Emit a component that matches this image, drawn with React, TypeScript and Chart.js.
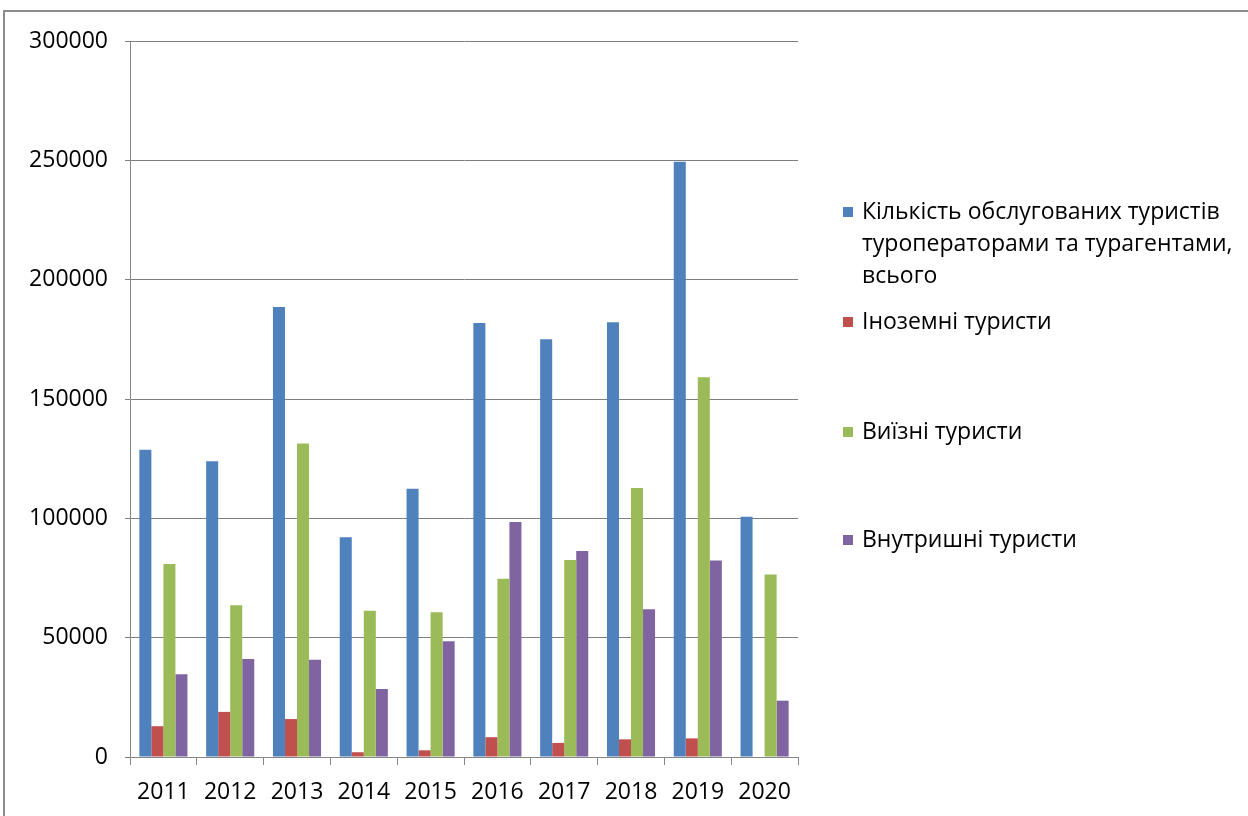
import React, { useEffect, useRef } from "react";
import { Chart, registerables } from "chart.js";

Chart.register(...registerables);

const years = ["2011", "2012", "2013", "2014", "2015", "2016", "2017", "2018", "2019", "2020"];
const totalServed = [128700, 123900, 188500, 92100, 112400, 181800, 175000, 182200, 249400, 100700];
const foreignTourists = [12900, 18900, 15900, 2000, 2800, 8300, 5900, 7400, 7800, 0];
const outboundTourists = [80900, 63600, 131400, 61300, 60600, 74700, 82500, 112700, 159100, 76500];
const domesticTourists = [34700, 41100, 40700, 28500, 48500, 98500, 86300, 61900, 82300, 23600];

const seriesLabels = [
  "Кількість обслугованих туристів туроператорами та турагентами, всього",
  "Іноземні туристи",
  "Виїзні туристи",
  "Внутришні туристи",
];
const seriesColors = ["#4F81BD", "#C0504D", "#9BBB59", "#8064A2"];

const yMin = 0;
const yMax = 300000;
const yStep = 50000;

const FONT_FAMILY = "'Open Sans', 'Liberation Sans', sans-serif";
const FONT_SIZE = 23;

const frameAndLegend = {
  id: "frameAndLegend",
  beforeDraw(chart: any) {
    const ctx = chart.ctx;
    ctx.save();
    ctx.fillStyle = "#ffffff";
    ctx.fillRect(0, 0, chart.width, chart.height);
    ctx.strokeStyle = "#8c8c8c";
    ctx.lineWidth = 2;
    ctx.beginPath();
    ctx.moveTo(4, chart.height + 2);
    ctx.lineTo(4, 11);
    ctx.lineTo(chart.width + 2, 11);
    ctx.stroke();
    ctx.restore();
  },
  afterDraw(chart: any) {
    const ctx = chart.ctx;
    const markerX = 843;
    const textX = 862;
    const lineH = 32;
    const firstLineY = [212, 322, 432, 540];
    const maxW = 385;
    ctx.save();
    ctx.font = `${FONT_SIZE}px ${FONT_FAMILY}`;
    ctx.textBaseline = "middle";
    ctx.textAlign = "left";
    chart.data.datasets.forEach((ds: any, i: number) => {
      const words = String(ds.label).split(" ");
      const lines: string[] = [];
      let cur = "";
      words.forEach((w) => {
        const test = cur ? cur + " " + w : w;
        if (cur && ctx.measureText(test).width > maxW) {
          lines.push(cur);
          cur = w;
        } else {
          cur = test;
        }
      });
      if (cur) lines.push(cur);
      const y0 = firstLineY[i];
      ctx.fillStyle = ds.backgroundColor;
      ctx.fillRect(markerX, y0 - 5, 10, 10);
      ctx.fillStyle = "#000000";
      lines.forEach((ln, k) => ctx.fillText(ln, textX, y0 + k * lineH));
    });
    ctx.restore();
  },
};

export default function App() {
  const canvasRef = useRef<HTMLCanvasElement | null>(null);

  useEffect(() => {
    if (!canvasRef.current) return;
    const datasetsData = [totalServed, foreignTourists, outboundTourists, domesticTourists];
    const chart = new Chart(canvasRef.current, {
      type: "bar",
      data: {
        labels: years,
        datasets: datasetsData.map((d, i) => ({
          label: seriesLabels[i],
          data: d,
          backgroundColor: seriesColors[i],
          borderWidth: 0,
          categoryPercentage: 0.72,
          barPercentage: 1,
        })),
      },
      options: {
        responsive: false,
        animation: false,
        devicePixelRatio: 1,
        layout: { padding: { left: 0, top: 41, right: 450, bottom: 0 } },
        plugins: {
          legend: { display: false },
          tooltip: { enabled: false },
          title: { display: false },
        },
        scales: {
          x: {
            afterFit(scale: any) {
              scale.height = 59;
            },
            grid: {
              offset: true,
              drawOnChartArea: false,
              drawTicks: true,
              tickLength: 8,
              color: "#868686",
              lineWidth: 1,
            },
            border: { display: true, color: "#868686", width: 1 },
            ticks: {
              color: "#000000",
              padding: 14,
              maxRotation: 0,
              font: { family: FONT_FAMILY, size: FONT_SIZE },
            },
          },
          y: {
            min: yMin,
            max: yMax,
            afterFit(scale: any) {
              scale.width = 130;
            },
            grid: {
              color: "#7f7f7f",
              lineWidth: 1,
              drawTicks: true,
              tickLength: 5,
            },
            border: { display: true, color: "#868686", width: 1 },
            ticks: {
              stepSize: yStep,
              color: "#000000",
              padding: 17,
              font: { family: FONT_FAMILY, size: FONT_SIZE },
              callback: (v: any) => String(v),
            },
          },
        },
      },
      plugins: [frameAndLegend],
    });
    return () => chart.destroy();
  }, []);

  return (
    <div style={{ position: "absolute", left: 0, top: 0, width: 1248, height: 816, background: "#fff" }}>
      <canvas
        ref={canvasRef}
        width={1248}
        height={816}
        style={{ display: "block", width: 1248, height: 816 }}
      />
    </div>
  );
}
